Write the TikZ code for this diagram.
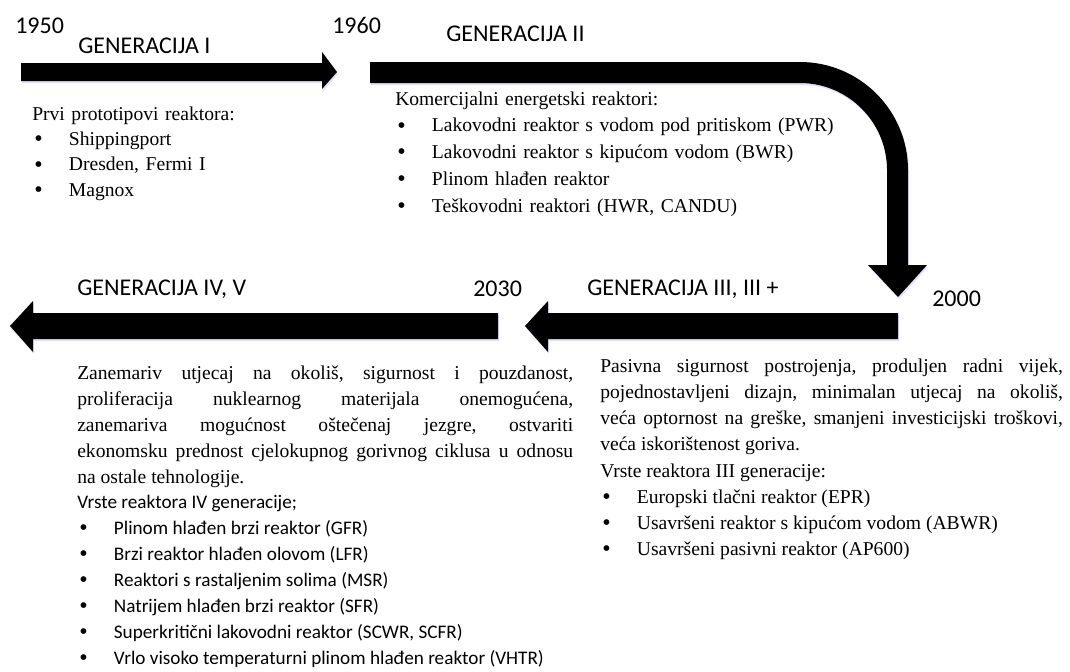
\documentclass[tikz,border=0pt]{standalone}
\usepackage{fontspec}
\setmainfont{Liberation Serif}
\newfontfamily\calibri{Carlito}
\usetikzlibrary{positioning}
\hyphenpenalty=10000
\tolerance=9999
\frenchspacing

\newcommand{\bul}[1]{\hspace*{1.5pt}\makebox[26pt][l]{\raisebox{-0.8pt}{\rmfamily\fontsize{18}{18}\selectfont\textbullet}}#1}

\tikzset{
  bigarrow/.style={fill=black, preaction={fill=blue!12, transform canvas={shift={(1,2)}}}},
  gentitle/.style={font=\calibri\fontsize{18}{22}\selectfont, anchor=base west, inner sep=0pt},
  yearlbl/.style={gentitle},
  desc/.style={font=\fontsize{14.7}{19.5}\selectfont, anchor=base west, inner sep=0pt, align=left, text width=#1},
  descbox/.style={desc=#1, align=justify},
}

\begin{document}
\begin{tikzpicture}[x=0.75pt, y=-0.75pt]
\useasboundingbox (0,0) rectangle (1070,671);

% generacija I
\path[bigarrow] (21,63) -- (322,63) -- (322,52) -- (337,72) -- (322,89) -- (322,81) -- (21,81) -- cycle;
% generacija II, zakrivljena
\path[bigarrow] (370,62) -- (800,62) .. controls (859.6,62) and (908,110.4) .. (908,170)
  -- (908,265) -- (927,265) -- (898,297) -- (868,265) -- (887,265) -- (887,170)
  .. controls (887,122) and (848,83) .. (800,83) -- (370,83) -- cycle;
% generacija III
\path[bigarrow] (898,313) -- (548,313) -- (548,301) -- (525,326) -- (548,352) -- (548,339) -- (898,339) -- cycle;
% generacija IV
\path[bigarrow] (498,313) -- (33,313) -- (33,301) -- (10,326) -- (33,352) -- (33,339) -- (498,339) -- cycle;

\node[yearlbl] (y1950) at (15,33) {1950};
\node[yearlbl] (y1960) at (332,33) {1960};
\node[yearlbl] (y2030) at (473,296) {2030};
\node[yearlbl] (y2000) at (932,306) {2000};

\node[gentitle] (gen1) at (78,53) {GENERACIJA I};
\node[gentitle] (gen2) at (446,41) {GENERACIJA II};
\node[gentitle] (gen3) at (587,295) {GENERACIJA III, III +};
\node[gentitle] (gen4) at (77,295) {GENERACIJA IV, V};

\node[desc=240pt, font=\fontsize{14.7}{19.1}\selectfont] (opis1) at (32,120) {Prvi prototipovi reaktora:\\
  \bul{Shippingport}\\
  \bul{Dresden, Fermi I}\\
  \bul{Magnox}};

\node[desc=420pt, font=\fontsize{14.7}{20.2}\selectfont] (opis2) at (395,105) {Komercijalni energetski reaktori:\\
  \bul{Lakovodni reaktor s vodom pod pritiskom (PWR)}\\
  \bul{Lakovodni reaktor s kipućom vodom (BWR)}\\
  \bul{Plinom hlađen reaktor}\\
  \bul{Teškovodni reaktori (HWR, CANDU)}};

\node[descbox=347pt, font=\fontsize{14.7}{19.7}\selectfont] (opis3) at (600,372) {Pasivna sigurnost postrojenja, produljen radni vijek,\linebreak
  pojednostavljeni dizajn, minimalan utjecaj na okoliš,\linebreak
  veća optornost na greške, smanjeni investicijski troškovi,\linebreak
  veća iskorištenost goriva.\par
  Vrste reaktora III generacije:\par
  \bul{Europski tlačni reaktor (EPR)}\par
  \bul{Usavršeni reaktor s kipućom vodom (ABWR)}\par
  \bul{Usavršeni pasivni reaktor (AP600)}\par};

\node[descbox=372pt] (opis4) at (77,379) {Zanemariv utjecaj na okoliš, sigurnost i pouzdanost,\linebreak
  proliferacija nuklearnog materijala onemogućena,\linebreak
  zanemariva mogućnost oštečenaj jezgre, ostvariti\linebreak
  ekonomsku prednost cjelokupnog gorivnog ciklusa u odnosu\linebreak
  na ostale tehnologije.\par
  \calibri\fontsize{14.4}{19.4}\selectfont
  Vrste reaktora IV generacije;\par
  \bul{Plinom hlađen brzi reaktor (GFR)}\par
  \bul{Brzi reaktor hlađen olovom (LFR)}\par
  \bul{Reaktori s rastaljenim solima (MSR)}\par
  \bul{Natrijem hlađen brzi reaktor (SFR)}\par
  \bul{Superkritični lakovodni reaktor (SCWR, SCFR)}\par
  \bul{Vrlo visoko temperaturni plinom hlađen reaktor (VHTR)}\par};
\end{tikzpicture}
\end{document}
